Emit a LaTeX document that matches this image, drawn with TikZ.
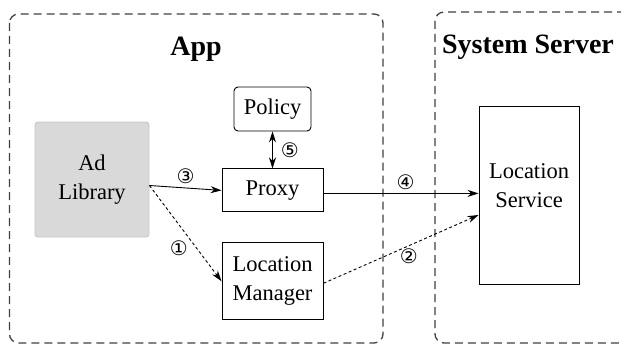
\documentclass[tikz,border=0pt]{standalone}
\usepackage{fontspec}
\setmainfont{Liberation Serif}
\newfontfamily\circfont{DejaVu Sans}
\usepackage{tikz}
\usetikzlibrary{positioning}
\usetikzlibrary{arrows.meta}
\tikzset{>=Stealth}
\tikzstyle{region} = [draw=black!75, dash pattern=on 8pt off 5pt, rounded corners=9pt, line width=1.3pt]
\tikzstyle{block} = [draw, rectangle, line width=0.9pt, align=center, inner sep=0pt,
font=\fontsize{22.5}{29}\selectfont]
\tikzstyle{lib} = [block, draw=black!22, fill=black!15, rounded corners=3pt]
\tikzstyle{tag} = [font=\circfont\fontsize{20}{20}\selectfont, inner sep=0pt]
\tikzstyle{line} = [draw, -{Stealth[length=11pt,width=7pt]}, line width=0.9pt]
\tikzstyle{dline} = [line, dash pattern=on 3pt off 2.5pt]

\begin{document}
\begin{tikzpicture}[x=1pt, y=-1pt]
      \useasboundingbox (0,0) rectangle (621,345);
      %% Regions
      \draw [region] (9.5,14) rectangle (383,343);
      \draw [region] (435,12) rectangle (645,343);
      \node [font=\bfseries\fontsize{28}{30}\selectfont] (app) at (196,49) {App};
      \node [font=\bfseries\fontsize{28}{30}\selectfont] (server) at (528,47) {System Server};
      %% Blocks
      \node [lib, minimum width=114pt, minimum height=115pt] (adlib) at (92,179.5) {Ad\\Library};
      \node [block, rounded corners=4pt, minimum width=77pt, minimum height=44pt] (policy) at (272.5,109) {Policy};
      \node [block, minimum width=101pt, minimum height=43pt, below=37pt of policy] (proxy) {Proxy};
      \node [block, minimum width=101pt, minimum height=77pt, below=30pt of proxy] (locman) {Location\\Manager};
      \node [block, minimum width=100pt, minimum height=178pt] (locsrv) at (529,195)
            {\raisebox{8pt}[\height][\depth]{\begin{tabular}{@{}c@{}}Location\\Service\end{tabular}}};
      %% Flows
      \path [line] ([yshift=-6pt]adlib.east) to node [tag, midway, above=4pt] (n3) {③} (proxy.west);
      \path [dline] ([yshift=-6pt]adlib.east) to node [tag, pos=0.65, left=8pt] (n1) {①} (locman.west);
      \path [line, {Stealth[length=11pt,width=7pt]}-{Stealth[length=11pt,width=7pt]}] (policy.south) to node [tag, midway, right=8pt] (n5) {⑤} (proxy.north);
      \path [line] ([yshift=-3pt]proxy.east) to node [tag, pos=0.53, above=3pt] (n4) {④} ([yshift=-3pt]proxy.east -| locsrv.west);
      \path [dline] ([yshift=-2pt]locman.east) to node [tag, pos=0.55, below=3pt] (n2) {②} ([yshift=-20pt]locsrv.west);
    \end{tikzpicture}
\end{document}
